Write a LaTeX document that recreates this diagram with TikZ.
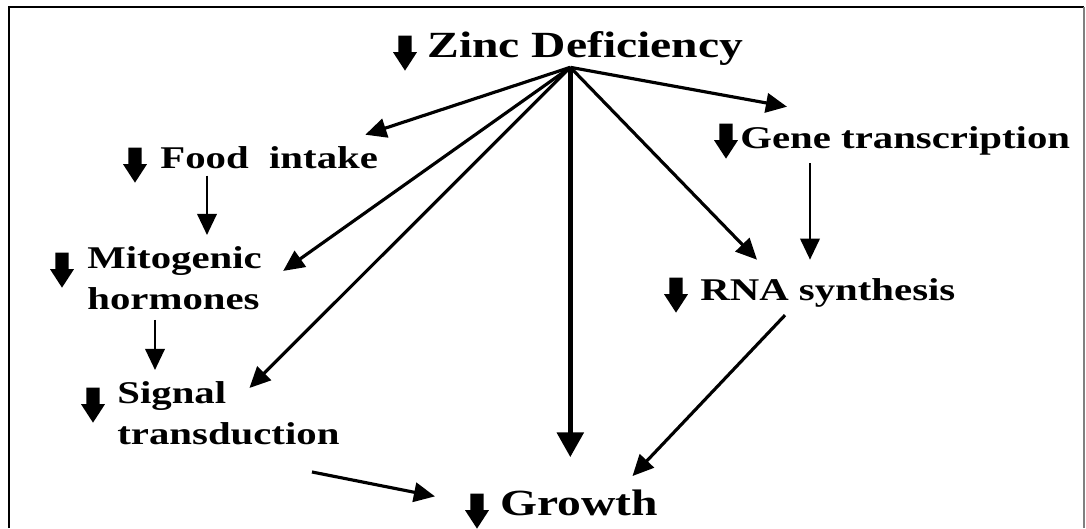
\documentclass[tikz,border=0pt]{standalone}
\usepackage{fontspec}
\setmainfont{Liberation Serif}[FakeStretch=1.29]
\usetikzlibrary{shapes}
\usetikzlibrary{arrows.meta}

\begin{document}
\begin{tikzpicture}[x=0.02cm,y=-0.02cm,>={Triangle[length=12pt,width=11pt]}]
			\tikzstyle{lbl}=[inner sep=0,font=\fontsize{18pt}{23.3pt}\selectfont\bfseries,align=left]
			\tikzstyle{big}=[lbl,font=\fontsize{21pt}{25pt}\selectfont\bfseries]
			\tikzstyle{dn}=[single arrow,fill=black,shape border rotate=270,inner sep=3.6pt,single arrow head extend=3pt,single arrow tip angle=66,minimum height=0.7cm]
			\tikzstyle{link}=[->,line width=1.8pt]
			
			\useasboundingbox (0,0) rectangle (1086,528);
			\draw[line width=1.4pt] (9,528) -- (9,7) -- (1084,7);
			\draw[gray,line width=0.6pt] (1084,7) -- (1084,528);
			
			% labels
			\node[big,anchor=base west] (zinc) at (427,57) {Zinc Deficiency};
			\node[dn] (zinc-dn) at (405,48) {};
			\node[lbl,anchor=base west] (food) at (160,168) {Food \ intake};
			\node[dn] (food-dn) at (135,160) {};
			\node[lbl,anchor=north west] (mito) at (87,246) {Mitogenic\\hormones};
			\node[dn] (mito-dn) at (62,265) {};
			\node[lbl,anchor=north west] (sig) at (117,381) {Signal\\transduction};
			\node[dn] (sig-dn) at (93,400) {};
			\node[lbl,anchor=base west] (gene) at (740,148) {Gene transcription};
			\node[dn] (gene-dn) at (726,136) {};
			\node[lbl,anchor=base west] (rna) at (700,300) {RNA synthesis};
			\node[dn] (rna-dn) at (676,290) {};
			\node[big,anchor=base west] (grow) at (500,515) {Growth};
			\node[dn] (grow-dn) at (477,506) {};
			
			% arrows
			\coordinate (hub) at ([shift={(-15,2)}]zinc.south);
			\draw[link] (hub) -- ([shift={(-13,-11)}]food.north east);
			\draw[link] (hub) -- ([shift={(21,-7)}]mito.east);
			\draw[link] (hub) -- ([shift={(21,7)}]sig.north);
			\draw[->,line width=2.5pt,>={Triangle[length=14pt,width=15pt]}] (hub) -- ([yshift=0.64cm]hub |- grow.north);
			\draw[link] (hub) -- ([shift={(57,-18)}]rna.north west);
			\draw[link] (hub) -- ([shift={(47,-19)}]gene.north west);
			\draw[link,line width=1.5pt] ([shift={(70,8)}]gene.south west) -- ([shift={(70,-18)}]gene.south west |- rna.north);
			\draw[link,line width=1.5pt] ([shift={(47,7)}]food.south west) -- ([shift={(47,-11)}]food.south west |- mito.north);
			\draw[link,line width=1.5pt] ([shift={(68,10)}]mito.south west) -- ([shift={(68,-11)}]mito.south west |- sig.north);
			\draw[link] ([shift={(195,27)}]sig.south west) -- ([shift={(-65,-6)}]grow.west);
			\draw[link] ([shift={(85,8)}]rna.south west) -- ([shift={(-26,-13)}]grow.north east);
\end{tikzpicture}
\end{document}
